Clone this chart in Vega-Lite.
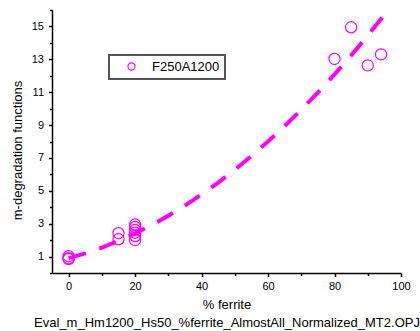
{
  "$schema": "https://vega.github.io/schema/vega-lite/v6.json",
  "width": 349,
  "height": 263,
  "autosize": {"type": "none"},
  "padding": {"left": 52, "top": 10, "right": 19, "bottom": 58},
  "background": "white",
  "config": {
    "view": {"stroke": null},
    "font": "Liberation Sans",
    "axis": {
      "domainColor": "black",
      "domainWidth": 1.5,
      "tickColor": "black",
      "tickWidth": 1.5,
      "labelFont": "Liberation Sans",
      "labelFontSize": 11,
      "labelColor": "black",
      "titleFont": "Liberation Sans",
      "titleFontSize": 13,
      "titleFontWeight": "normal",
      "titleColor": "black",
      "grid": false,
      "labelOverlap": false,
      "labelFlush": false
    },
    "legend": {"strokeWidth": 2}
  },
  "datasets": {
    "points": [
      {"ferrite": 0, "m": 1.02, "series": "F250A1200"},
      {"ferrite": 0, "m": 0.9, "series": "F250A1200"},
      {"ferrite": 0, "m": 0.85, "series": "F250A1200"},
      {"ferrite": 15, "m": 2.42, "series": "F250A1200"},
      {"ferrite": 15, "m": 2.05, "series": "F250A1200"},
      {"ferrite": 20, "m": 2.95, "series": "F250A1200"},
      {"ferrite": 20, "m": 2.8, "series": "F250A1200"},
      {"ferrite": 20, "m": 2.62, "series": "F250A1200"},
      {"ferrite": 20, "m": 2.45, "series": "F250A1200"},
      {"ferrite": 20, "m": 2.25, "series": "F250A1200"},
      {"ferrite": 20, "m": 2.0, "series": "F250A1200"},
      {"ferrite": 80, "m": 13.02, "series": "F250A1200"},
      {"ferrite": 85, "m": 14.95, "series": "F250A1200"},
      {"ferrite": 90, "m": 12.63, "series": "F250A1200"},
      {"ferrite": 94, "m": 13.3, "series": "F250A1200"}
    ],
    "fit": [
      {"ferrite": 0, "m": 0.9},
      {"ferrite": 5, "m": 1.197},
      {"ferrite": 10, "m": 1.547},
      {"ferrite": 15, "m": 1.951},
      {"ferrite": 20, "m": 2.409},
      {"ferrite": 25, "m": 2.92},
      {"ferrite": 30, "m": 3.485},
      {"ferrite": 35, "m": 4.103},
      {"ferrite": 40, "m": 4.775},
      {"ferrite": 45, "m": 5.501},
      {"ferrite": 50, "m": 6.28},
      {"ferrite": 55, "m": 7.113},
      {"ferrite": 60, "m": 7.999},
      {"ferrite": 65, "m": 8.939},
      {"ferrite": 70, "m": 9.933},
      {"ferrite": 75, "m": 10.98},
      {"ferrite": 80, "m": 12.081},
      {"ferrite": 85, "m": 13.235},
      {"ferrite": 90, "m": 14.443},
      {"ferrite": 95, "m": 15.705}
    ]
  },
  "layer": [
    {
      "data": {"name": "points"},
      "mark": {"type": "point", "shape": "circle", "filled": false, "size": 125, "strokeWidth": 1.2, "opacity": 1},
      "encoding": {
        "x": {
          "field": "ferrite",
          "type": "quantitative",
          "scale": {"domain": [-5, 100], "nice": false, "zero": false},
          "axis": {
            "values": [0, 10, 20, 30, 40, 50, 60, 70, 80, 90, 100],
            "tickCount": 50,
            "format": "d",
            "labelExpr": "datum.value % 20 == 0 ? datum.label : ''",
            "tickSize": {"condition": {"test": "datum.value % 20 == 0", "value": 3.5}, "value": 2.5},
            "labelPadding": 4,
            "title": ["% ferrite", "Eval_m_Hm1200_Hs50_%ferrite_AlmostAll_Normalized_MT2.OPJ"],
            "titleLineHeight": 18,
            "titlePadding": 7
          }
        },
        "y": {
          "field": "m",
          "type": "quantitative",
          "scale": {"domain": [0, 16], "nice": false, "zero": false},
          "axis": {
            "values": [0, 1, 2, 3, 4, 5, 6, 7, 8, 9, 10, 11, 12, 13, 14, 15, 16],
            "tickCount": 50,
            "format": "d",
            "labelExpr": "datum.value % 2 == 1 ? datum.label : ''",
            "tickSize": {"condition": {"test": "datum.value % 2 == 1", "value": 3.5}, "value": 2.5},
            "labelPadding": 5,
            "title": "m-degradation functions",
            "titlePadding": 7,
            "titleY": 140
          }
        },
        "color": {
          "field": "series",
          "type": "nominal",
          "scale": {"range": ["#FF00FF"]},
          "legend": {
            "title": null,
            "orient": "none",
            "legendX": 57,
            "legendY": 45,
            "strokeColor": "#555555",
            "fillColor": "white",
            "padding": 5,
            "symbolOffset": 11,
            "labelOffset": 14,
            "labelFontSize": 13,
            "labelFont": "Liberation Sans",
            "labelColor": "black",
            "symbolSize": 50,
            "symbolStrokeWidth": 1.2,
            "symbolType": "circle"
          }
        }
      }
    },
    {
      "data": {"name": "fit"},
      "mark": {"type": "line", "color": "#FF00FF", "strokeWidth": 4, "strokeDash": [18, 14], "strokeCap": "butt", "clip": true},
      "encoding": {
        "x": {"field": "ferrite", "type": "quantitative"},
        "y": {"field": "m", "type": "quantitative"}
      }
    }
  ]
}
